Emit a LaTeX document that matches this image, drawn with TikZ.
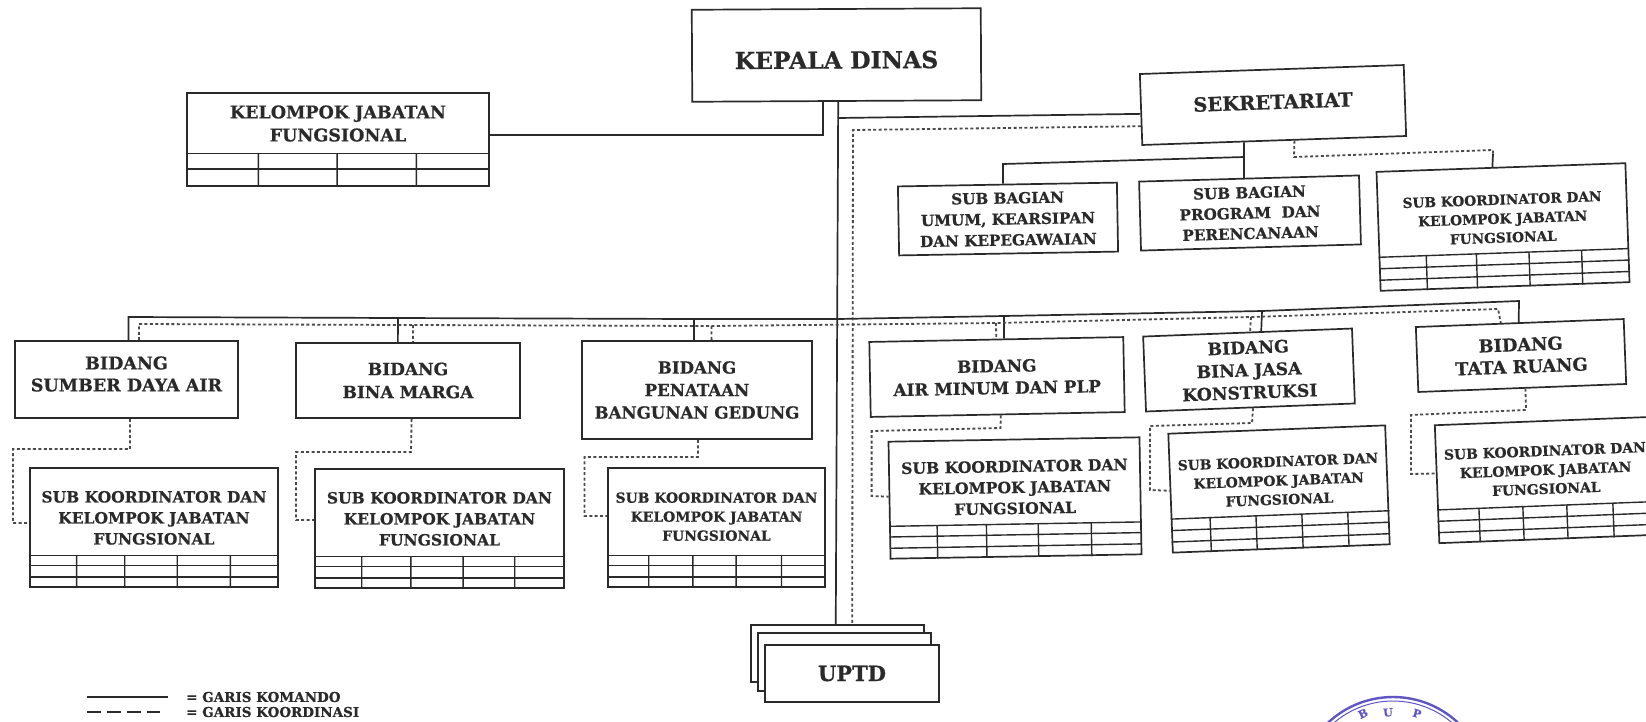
\documentclass[tikz,border=0pt]{standalone}
\usepackage{fontspec}
\setmainfont[BoldFeatures={FakeBold=0.6}]{DejaVu Serif}
\usetikzlibrary{calc}
\definecolor{ink}{HTML}{2A2A2A}
\definecolor{stamp}{HTML}{5F55C4}
\newcommand\fs[2]{\fontsize{#1}{#2}\selectfont\bfseries}
\newcommand\ontop[2]{($(#1.north west)!#2!(#1.north east)$)}
\newcommand\onbot[2]{($(#1.south west)!#2!(#1.south east)$)}
\newcommand\gridlines[2]{%
  \foreach \r in {#2}{\draw[gridline] ($(#1.south west)!\r!(#1.north west)$) -- ($(#1.south east)!\r!(#1.north east)$);}%
}
\newcommand\gridcols[3]{%
  \foreach \f in {#3}{\draw[gridline] ($(#1.south west)!\f!(#1.south east)$) -- ($($(#1.south west)!\f!(#1.south east)$)!#2!($(#1.north west)!\f!(#1.north east)$)$);}%
}
\tikzset{
  box/.style={draw=ink,line width=1.7pt,fill=white,inner sep=0pt,align=center,text=ink},
  title/.style={inner sep=0pt,align=center,text=ink},
  gridline/.style={draw=ink,line width=1.4pt},
  cmd/.style={draw=ink,line width=1.7pt,line join=miter},
  coord/.style={draw=ink!85,line width=1.8pt,dash pattern=on 3pt off 2.4pt},
}
\begin{document}
\begin{tikzpicture}[x=1pt,y=-1pt]
\useasboundingbox (0,0) rectangle (1646,721);
\clip (0,0) rectangle (1646,721);
\fill[white] (0,0) rectangle (1646,721);

% top boxes
\node[box,minimum width=289pt,minimum height=92pt,rotate=0.3] (kepala) at (836.5,55) {};
\node[title,rotate=0.3,font=\fs{23.5}{28}] (kepalat) at (836.5,60) {KEPALA DINAS};
\node[box,minimum width=302pt,minimum height=93pt] (kjf) at (338,139.5) {};
\node[title,font=\fs{17.5}{23}] (kjft) at (338,123.5) {KELOMPOK JABATAN\\FUNGSIONAL};
\gridlines{kjf}{.355,.19}
\gridcols{kjf}{.355}{.238,.497,.758}

\node[box,minimum width=264pt,minimum height=71pt,rotate=1.95] (sek) at (1273,105) {};
\node[title,rotate=1.95,font=\fs{19.5}{24}] (sekt) at (1273,102) {SEKRETARIAT};
\node[box,minimum width=219pt,minimum height=69pt,rotate=1,font=\fs{15.2}{21}] (umum) at (1008,219) {SUB BAGIAN\\UMUM, KEARSIPAN\\DAN KEPEGAWAIAN};
\node[box,minimum width=220pt,minimum height=69pt,rotate=1.6,font=\fs{15.2}{20.5}] (prog) at (1250,213) {SUB BAGIAN\\PROGRAM~~DAN\\PERENCANAAN};

% sub koordinator sekretariat
\node[box,minimum width=249pt,minimum height=119pt,rotate=2] (sks) at (1503,227) {};
\node[title,rotate=2,font=\fs{13.7}{19}] (skst) at ($(sks.south)!.57!(sks.north)$) {SUB KOORDINATOR DAN\\KELOMPOK JABATAN\\FUNGSIONAL};
\gridlines{sks}{.285,.19,.095}
\gridcols{sks}{.285}{.19,.39,.60,.81}

% bidang
\node[box,minimum width=223pt,minimum height=77pt] (sda) at (126.5,379.5) {};
\node[title,font=\fs{17.5}{22}] (sdat) at (126.5,374) {BIDANG\\SUMBER DAYA AIR};
\node[box,minimum width=224pt,minimum height=75pt,font=\fs{17}{23}] (bm) at (408,380.5) {BIDANG\\BINA MARGA};
\node[box,minimum width=230pt,minimum height=98pt,font=\fs{16.6}{22.5}] (pen) at (697,390) {BIDANG\\PENATAAN\\BANGUNAN GEDUNG};
\node[box,minimum width=254pt,minimum height=75pt,rotate=1.1,font=\fs{16.8}{22}] (air) at (997,377) {BIDANG\\AIR MINUM DAN PLP};
\node[box,minimum width=209pt,minimum height=75pt,rotate=2.2,font=\fs{17.2}{22.5}] (jasa) at (1249,370) {BIDANG\\BINA JASA\\KONSTRUKSI};
\node[box,minimum width=208pt,minimum height=65pt,rotate=2.2,font=\fs{17.8}{22}] (tata) at (1521,355.5) {BIDANG\\TATA RUANG};

% sub koordinator bidang
\node[box,minimum width=248pt,minimum height=119pt] (ska) at (154,527.5) {};
\node[title,font=\fs{15.5}{21}] (skat) at ($(ska.south)!.58!(ska.north)$) {SUB KOORDINATOR DAN\\KELOMPOK JABATAN\\FUNGSIONAL};
\gridlines{ska}{.27,.185,.09}
\gridcols{ska}{.27}{.19,.383,.593,.806}

\node[box,minimum width=249pt,minimum height=119pt] (skb) at (439.5,528.5) {};
\node[title,font=\fs{15.5}{21}] (skbt) at ($(skb.south)!.58!(skb.north)$) {SUB KOORDINATOR DAN\\KELOMPOK JABATAN\\FUNGSIONAL};
\gridlines{skb}{.27,.185,.09}
\gridcols{skb}{.27}{.19,.386,.594,.80}

\node[box,minimum width=217pt,minimum height=119pt] (skc) at (716.5,527.5) {};
\node[title,font=\fs{13.9}{19}] (skct) at ($(skc.south)!.59!(skc.north)$) {SUB KOORDINATOR DAN\\KELOMPOK JABATAN\\FUNGSIONAL};
\gridlines{skc}{.27,.185,.09}
\gridcols{skc}{.27}{.19,.392,.59,.797}

\node[box,minimum width=251pt,minimum height=117pt,rotate=1] (skd) at (1015,498) {};
\node[title,rotate=1,font=\fs{15.6}{21}] (skdt) at ($(skd.south)!.59!(skd.north)$) {SUB KOORDINATOR DAN\\KELOMPOK JABATAN\\FUNGSIONAL};
\gridlines{skd}{.28,.19,.095}
\gridcols{skd}{.28}{.19,.385,.59,.80}

\node[box,minimum width=217pt,minimum height=119pt,rotate=2.2] (ske) at (1279,489) {};
\node[title,rotate=2.2,font=\fs{13.8}{19}] (sket) at ($(ske.south)!.57!(ske.north)$) {SUB KOORDINATOR DAN\\KELOMPOK JABATAN\\FUNGSIONAL};
\gridlines{ske}{.285,.19,.095}
\gridcols{ske}{.285}{.18,.39,.60,.81}

\node[box,minimum width=218pt,minimum height=118pt,rotate=2.2] (skf) at (1546,480) {};
\node[title,rotate=2.2,font=\fs{13.9}{19}] (skft) at ($(skf.south)!.585!(skf.north)$) {SUB KOORDINATOR DAN\\KELOMPOK JABATAN\\FUNGSIONAL};
\gridlines{skf}{.285,.19,.095}
\gridcols{skf}{.285}{.19,.39,.59,.80}

% UPTD stack
\node[box,minimum width=173pt,minimum height=57pt] (u1) at (837.5,653.5) {};
\node[box,minimum width=173pt,minimum height=58pt] (u2) at (844.5,662) {};
\node[box,minimum width=174pt,minimum height=57pt,font=\fs{21}{24}] (u3) at (852,673.5) {UPTD};

% bus junctions
\coordinate (tj) at (838,319);
\coordinate (s0) at (398,318);
\coordinate (s1) at (694,319);
\coordinate (s2) at (1004,316);
\coordinate (s3) at (1262,311);
\coordinate (sr) at (1519,301);
\coordinate (sl) at (128.5,317);
\coordinate (d0) at (139,324);
\coordinate (d1) at (413,325);
\coordinate (d2) at (711.5,326);
\coordinate (d3) at (996,323);
\coordinate (d4) at (1251,317);
\coordinate (dr) at (1498,309);
\coordinate (kj) at (823,135);
\coordinate (sj) at (1244,157);
\coordinate (uj) at (1003,164);
\coordinate (dc) at (853,130);
\coordinate (sd1) at (1294,157);
\coordinate (sd2) at (1493,150);
\coordinate (sj2) at (838,118);

% command lines
\draw[cmd] \onbot{kepala}{.505} -- \ontop{u1}{.49};
\draw[cmd] \onbot{kepala}{.453} -- (kj) -- (kjf.north east |- kj);
\draw[cmd] (sj2) -- ($(sek.north west)!.56!(sek.south west)$);
\draw[cmd] \onbot{sek}{.386} -- \ontop{prog}{.477};
\draw[cmd] (sj) -- (uj) -- \ontop{umum}{.48};
\draw[cmd] \ontop{sda}{.509} -- (sl) -- (s0) -- (s1) -- (tj) -- (s2) -- (s3) -- (sr) -- \ontop{tata}{.495};
\draw[cmd] (s0) -- \ontop{bm}{.455};
\draw[cmd] (s1) -- \ontop{pen}{.487};
\draw[cmd] (s2) -- \ontop{air}{.53};
\draw[cmd] (s3) -- \ontop{jasa}{.565};
\draw[cmd] (sd2) ++(0,4) -- \ontop{sks}{.466};

% coordination lines
\draw[coord] ($(sek.north west)!.73!(sek.south west)$) -- (dc) -- \ontop{u1}{.584};
\draw[coord] \onbot{sek}{.576} -- (sd1) -- (sd2) -- ++(0,4);
\draw[coord] \ontop{sda}{.556} -- (d0) -- (d1) -- (d2) -- (d3) -- (d4) -- (dr) -- \ontop{tata}{.41};
\draw[coord] (d1) -- \ontop{bm}{.522};
\draw[coord] (d2) -- \ontop{pen}{.563};
\draw[coord] (d3) -- \ontop{air}{.50};
\draw[coord] (d4) -- \ontop{jasa}{.512};

\coordinate (a1) at (130,449); \coordinate (a2) at (13,449); \coordinate (a3) at (13,523);
\draw[coord] \onbot{sda}{.516} -- (a1) -- (a2) -- (a3) -- (a3 -| ska.west);
\coordinate (b1) at (411,452); \coordinate (b2) at (296,452); \coordinate (b3) at (296,520);
\draw[coord] \onbot{bm}{.516} -- (b1) -- (b2) -- (b3) -- (b3 -| skb.west);
\coordinate (c1) at (698,457); \coordinate (c2) at (584.5,457); \coordinate (c3) at (584.5,516);
\draw[coord] \onbot{pen}{.504} -- (c1) -- (c2) -- (c3) -- (c3 -| skc.west);
\coordinate (e1) at (1000.5,428); \coordinate (e2) at (871.6,431); \coordinate (e3) at (871.6,496);
\draw[coord] \onbot{air}{.512} -- (e1) -- (e2) -- (e3) -- ($(skd.north west)!.47!(skd.south west)$);
\coordinate (f1) at (1252,423); \coordinate (f2) at (1150,426); \coordinate (f3) at (1150,490);
\draw[coord] \onbot{jasa}{.512} -- (f1) -- (f2) -- (f3) -- ($(ske.north west)!.48!(ske.south west)$);
\coordinate (g1) at (1526,410); \coordinate (g2) at (1411,415); \coordinate (g3) at (1411,474);
\draw[coord] \onbot{tata}{.515} -- (g1) -- (g2) -- (g3) -- ($(skf.north west)!.41!(skf.south west)$);

% legend
\coordinate (l1a) at (87,697); \coordinate (l1b) at (168,697);
\coordinate (l2a) at (87,712); \coordinate (l2b) at (160,712);
\draw[draw=ink,line width=1.5pt] (l1a) -- (l1b);
\draw[draw=ink,line width=2pt,dash pattern=on 14pt off 6pt] (l2a) -- (l2b);
\node[title,anchor=west,font=\fs{13.5}{14}] (lg1) at (186,697) {= GARIS KOMANDO};
\node[title,anchor=west,font=\fs{13.5}{14}] (lg2) at (186,712) {= GARIS KOORDINASI};

% stamp
\draw[stamp,line width=2.4pt] (1393,792) circle (95);
\draw[stamp,line width=1pt] (1393,792) circle (91);
\node[text=stamp,rotate=25,font=\fs{11}{12}] (st1) at (1363,713.5) {B};
\node[text=stamp,rotate=4,font=\fs{11}{12}] (st2) at (1388,712.5) {U};
\node[text=stamp,rotate=-16,font=\fs{11}{12}] (st3) at (1417,713.5) {P};
\end{tikzpicture}
\end{document}
